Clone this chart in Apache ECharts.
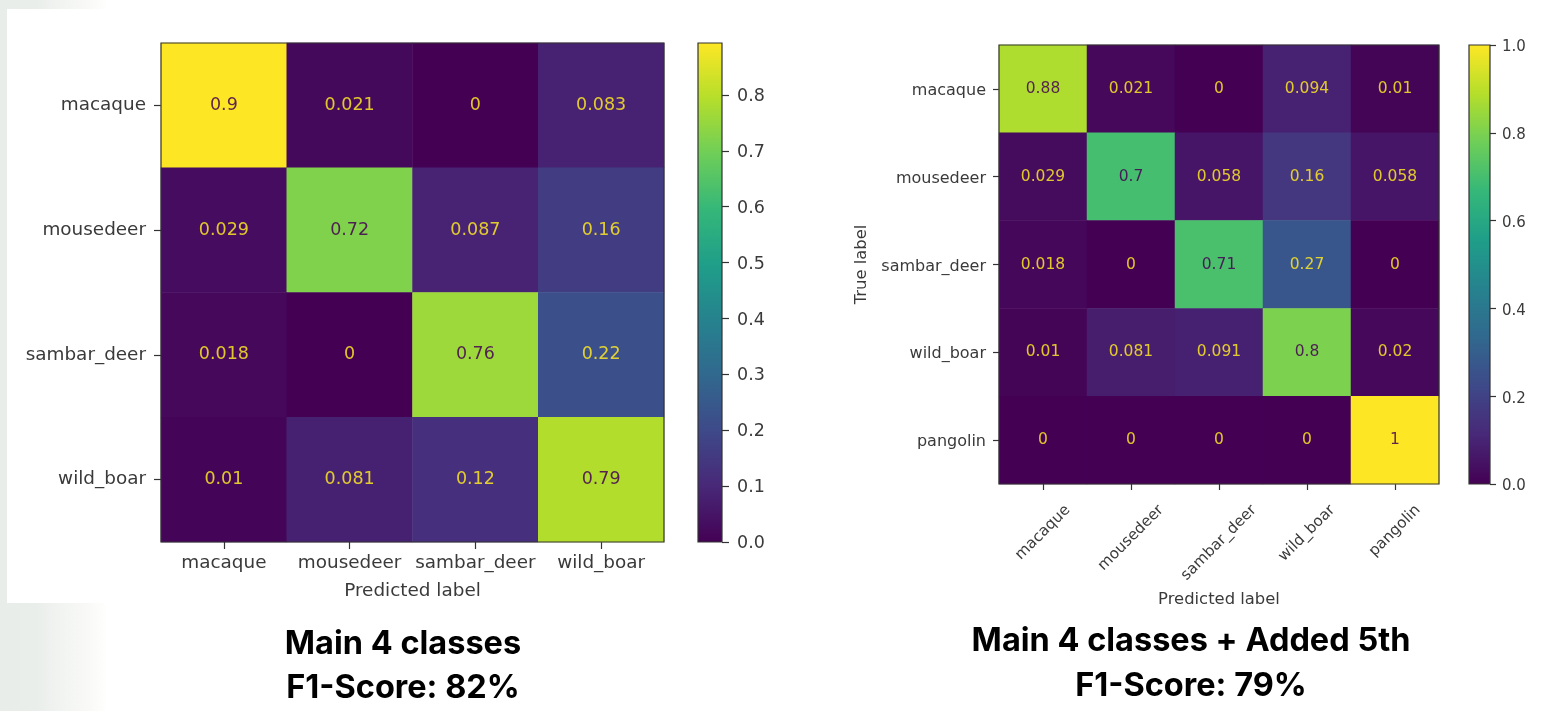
<!DOCTYPE html>
<html><head><meta charset="utf-8">
<style>html,body{margin:0;padding:0;background:#fff}#c{width:1552px;height:711px}</style>
<script src="https://cdn.jsdelivr.net/npm/echarts@6/dist/echarts.min.js"></script>
</head><body><div id="c"></div>
<script>
const leftLabels = ['macaque','mousedeer','sambar_deer','wild_boar'];
const leftValues = [
  [0.9,0.021,0,0.083],
  [0.029,0.72,0.087,0.16],
  [0.018,0,0.76,0.22],
  [0.01,0.081,0.12,0.79]
];
const rightLabels = ['macaque','mousedeer','sambar_deer','wild_boar','pangolin'];
const rightValues = [
  [0.88,0.021,0,0.094,0.01],
  [0.029,0.7,0.058,0.16,0.058],
  [0.018,0,0.71,0.27,0],
  [0.01,0.081,0.091,0.8,0.02],
  [0,0,0,0,1]
];
const leftBarTicks = [0,0.1,0.2,0.3,0.4,0.5,0.6,0.7,0.8];
const rightBarTicks = [0,0.2,0.4,0.6,0.8,1];
const leftMax = 0.893, rightMax = 1;
const viridis = ['#440154','#482878','#3e4989','#31688e','#26828e','#1f9e89','#35b779','#6ece58','#b5de2b','#fde725'];
const FONT = 'DejaVu Sans', INK = '#3a3a3a', LINE = '#333';

const ctx = document.createElement('canvas').getContext('2d');
// centre each 45-degree label under its tick, with the tops of the rotated boxes level
function rotatedCategories(labels, size){
  ctx.font = size + 'px "' + FONT + '"';
  const s = Math.SQRT1_2;
  return labels.map(t => {
    const d = ctx.measureText(t).width * s / 2;
    const k = d * s + size / 2;
    return {value: t, textStyle: {align:'center', verticalAlign:'top', padding: [d * s, 2 * k, 0, 0]}};
  });
}
function cells(values, max){
  const out = [];
  values.forEach((row, r) => row.forEach((v, c) => out.push({
    value: [c, r, v],
    label: {color: v > max / 2 ? '#440154' : '#fde725', opacity: 0.85}
  })));
  return out;
}
// a small line height with top alignment nudges tick labels down by half of it
const nudge = px => px ? {verticalAlign:'top', lineHeight:2 * px} : {};
function matrix(i, rect, xCats, yLabels, values, max, o){
  const tick = {show:true,alignWithLabel:true,length:o.tick,lineStyle:{color:LINE,width:1.2}};
  const g = Object.assign({show:true, z:5, borderColor:LINE, borderWidth:1.2, backgroundColor:'transparent'}, rect);
  const x = {gridIndex:i, type:'category', data:xCats, position:'bottom', name:'Predicted label', nameLocation:'middle',
    nameGap:o.nameGap, nameTextStyle:{fontFamily:FONT,fontSize:o.nameSize,color:INK},
    axisLine:{show:false}, axisTick:tick, splitLine:{show:false}, splitArea:{show:false},
    axisLabel:Object.assign({interval:0,fontFamily:FONT,fontSize:o.xSize,color:INK,hideOverlap:false}, o.xLabel)};
  const y = Object.assign({gridIndex:i, type:'category', data:yLabels, inverse:true,
    axisLine:{show:false}, axisTick:tick, splitLine:{show:false}, splitArea:{show:false},
    axisLabel:Object.assign({interval:0,fontFamily:FONT,fontSize:o.ySize,color:INK,margin:o.yMargin}, nudge(o.yNudge))}, o.extraY);
  const s = {type:'heatmap', xAxisIndex:i, yAxisIndex:i, data:cells(values,max), silent:true, progressive:0,
    label:{show:true,fontFamily:FONT,fontSize:o.cellSize,formatter:p=>String(p.value[2])}, emphasis:{disabled:true}};
  return {g,x,y,s};
}
function colorbar(i, rect, ticks, max, fs, tickLen, margin, shift){
  const g = Object.assign({show:true, z:5, borderColor:LINE, borderWidth:1.2, backgroundColor:'transparent'}, rect);
  const x = {gridIndex:i, type:'category', data:['scale'], show:false};
  const y = {gridIndex:i, type:'value', position:'right', min:0, max:max,
    axisLine:{show:false,onZero:false}, splitLine:{show:false},
    axisTick:{show:true,length:tickLen,customValues:ticks,lineStyle:{color:LINE,width:1.2}},
    axisLabel:Object.assign({fontFamily:FONT,fontSize:fs,color:INK,margin:margin,customValues:ticks,formatter:v=>v.toFixed(1)}, nudge(shift))};
  const s = {type:'bar', xAxisIndex:i, yAxisIndex:i, data:[max], barWidth:'100%', silent:true, label:{show:false},
    itemStyle:{color:{type:'linear',x:0,y:1,x2:0,y2:0,
      colorStops:viridis.map((c,n)=>({offset:n/(viridis.length-1),color:c}))}}};
  return {g,x,y,s};
}

const L = matrix(0,{left:161,top:43,width:503,height:499}, leftLabels, leftLabels, leftValues, leftMax,
  {tick:7,nameGap:40,nameSize:18.4,xSize:18.4,ySize:18.4,yMargin:15,yNudge:0,cellSize:17.5,xLabel:{margin:12},extraY:{}});
const R = matrix(1,{left:999,top:45,width:440,height:439}, rotatedCategories(rightLabels,15.2), rightLabels, rightValues, rightMax,
  {tick:6,nameGap:108,nameSize:16.4,xSize:15.2,ySize:16,yMargin:13,yNudge:2,cellSize:15.5,xLabel:{rotate:45,margin:13},
   extraY:{name:'True label',nameLocation:'middle',nameGap:129,nameRotate:90,nameTextStyle:{fontFamily:FONT,fontSize:16.4,color:INK}}});
const LB = colorbar(2,{left:698,top:43,width:24,height:499}, leftBarTicks, leftMax, 17.5, 7, 15, 1.5);
const RB = colorbar(3,{left:1469,top:45,width:21,height:439}, rightBarTicks, rightMax, 15, 6, 12, 2.5);

const vm = (seriesIndex,max)=>({type:'continuous', show:false, seriesIndex, min:0, max, inRange:{color:viridis}});
const caption = (t,x,y)=>({text:t,left:x,top:y,textAlign:'center',padding:0,
  textStyle:{fontFamily:'Inter',fontWeight:'bold',fontSize:32.5,color:'#000',lineHeight:36}});

const chart = echarts.init(document.getElementById('c'),null,{renderer:'canvas'});
chart.setOption({
  animation:false,
  backgroundColor:'#fff',
  graphic:[
    {type:'rect',z:-10,shape:{x:0,y:0,width:105,height:711},silent:true,
     style:{fill:{type:'linear',x:0,y:0,x2:1,y2:0,colorStops:[{offset:0,color:'#e8edea'},{offset:0.35,color:'#eaeeeb'},{offset:1,color:'#fefefc'}]}}},
    {type:'rect',z:-9,shape:{x:7,y:9,width:660,height:594},silent:true,style:{fill:'#fff'}}
  ],
  title:[caption('Main 4 classes',403,626),caption('F1-Score: 82%',403,670),caption('Main 4 classes + Added 5th',1191,623),caption('F1-Score: 79%',1191,668)],
  grid:[L.g,R.g,LB.g,RB.g],
  xAxis:[L.x,R.x,LB.x,RB.x],
  yAxis:[L.y,R.y,LB.y,RB.y],
  visualMap:[vm(0,leftMax),vm(1,rightMax)],
  series:[L.s,R.s,LB.s,RB.s]
});
</script></body></html>
